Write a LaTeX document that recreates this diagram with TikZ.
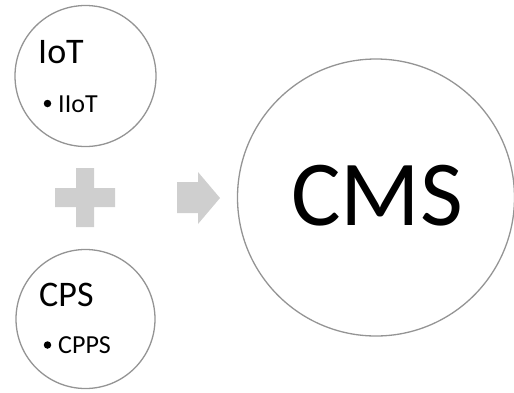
\documentclass[tikz,border=0pt]{standalone}
\usepackage{fontspec}
\setmainfont{Carlito}
\begin{document}
\begin{tikzpicture}[x=1pt,y=-1pt,
  ring/.style={circle,draw=black!42,line width=1.3pt,inner sep=0pt},
  shapegray/.style={fill=black!19,draw=none},
  title/.style={anchor=base west,inner sep=0pt,font=\fontsize{36}{40}\selectfont},
  sub/.style={anchor=base west,inner sep=0pt,font=\fontsize{26}{30}\selectfont},
  dot/.style={circle,fill=black,inner sep=0pt,minimum size=7.5pt}]
\useasboundingbox (0,0) rectangle (514,392);
\node[ring,minimum size=141pt] (iot) at (85.5,76) {};
\node[ring,minimum size=139pt] (cps) at (85.5,319) {};
\node[ring,minimum size=277pt] (cms) at (376,197.5) {};
\node[title] (iott) at (38,63) {IoT};
\node[dot] (b1) at (47.5,103.5) {};
\node[sub] (iiot) at (58,112) {IIoT};
\node[title] (cpst) at (39,306) {CPS};
\node[dot] (b2) at (47.5,345) {};
\node[sub] (cpps) at (58,353) {CPPS};
\node[anchor=base,inner sep=0pt,font=\fontsize{93}{100}\selectfont] (cmst) at (377,225) {CMS};
\fill[shapegray] (76,168) -- (94,168) -- (94,188) -- (115,188) -- (115,207) -- (94,207) -- (94,227) -- (76,227) -- (76,207) -- (55,207) -- (55,188) -- (76,188) -- cycle;
\fill[shapegray] (177,182) -- (198,182) -- (198,172) -- (220,198) -- (198,224) -- (198,213) -- (177,213) -- cycle;
\end{tikzpicture}
\end{document}
